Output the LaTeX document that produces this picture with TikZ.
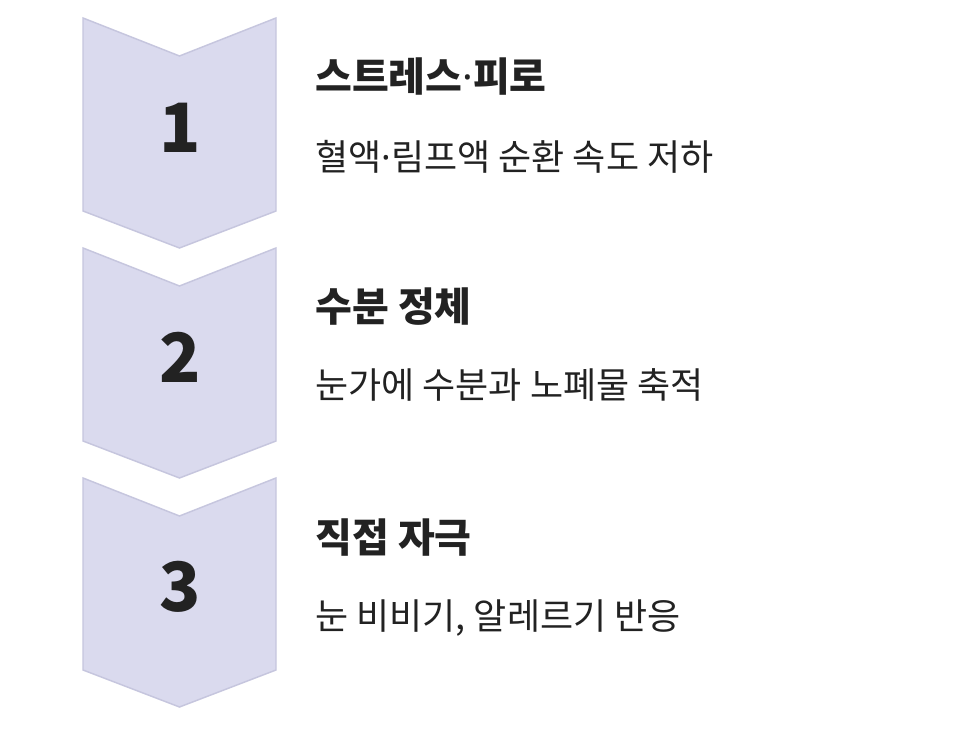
\documentclass[tikz,border=0pt]{standalone}
\usepackage{fontspec}
\newfontfamily\kor{Noto Sans CJK KR}
\newfontfamily\korblack{Noto Sans CJK KR Black}
\newfontfamily\latin{Noto Sans}
\newcommand\mdot{{\latin·}}
\usepackage{tikz}
\definecolor{chevfill}{HTML}{DADAEE}
\definecolor{chevline}{HTML}{C6C6DE}
\definecolor{ink}{HTML}{222222}

\begin{document}
\begin{tikzpicture}[
  x = 0.75pt, y = -0.75pt,
  chevron/.style = {fill=chevfill,draw=chevline,line width=1.1pt,line join=miter},
  num/.style = {inner sep=0pt,text=ink,font=\korblack\fontsize{51}{51}\selectfont},
  title/.style = {anchor=base west,inner sep=0pt,text=ink,font=\korblack\fontsize{30}{30}\selectfont},
  desc/.style = {anchor=base west,inner sep=0pt,text=ink,font=\kor\fontsize{27}{27}\selectfont}
  ]
  \useasboundingbox[fill=white] (0,0) rectangle (974,730);
  \draw[chevron] (83,18) -- (179.5,56) -- (276,18) -- (276,211) -- (179.5,248) -- (83,211) -- cycle;
  \draw[chevron] (83,248) -- (179.5,286) -- (276,248) -- (276,441) -- (179.5,478) -- (83,441) -- cycle;
  \draw[chevron] (83,478) -- (179.5,516) -- (276,478) -- (276,670) -- (179.5,707) -- (83,670) -- cycle;
  \node[num] (@1) at (180,128) {1};
  \node[num] (@2) at (180,357) {2};
  \node[num] (@3) at (180,587) {3};
  \node[title] (title1) at (315,92) {스트레스\mdot 피로};
  \node[desc] (desc1) at (315,171) {혈액\mdot 림프액 순환 속도 저하};
  \node[title] (title2) at (315,322) {수분 정체};
  \node[desc] (desc2) at (315,399) {눈가에 수분과 노폐물 축적};
  \node[title] (title3) at (315,552) {직접 자극};
  \node[desc] (desc3) at (315,629) {눈 비비기, 알레르기 반응};
\end{tikzpicture}
\end{document}
